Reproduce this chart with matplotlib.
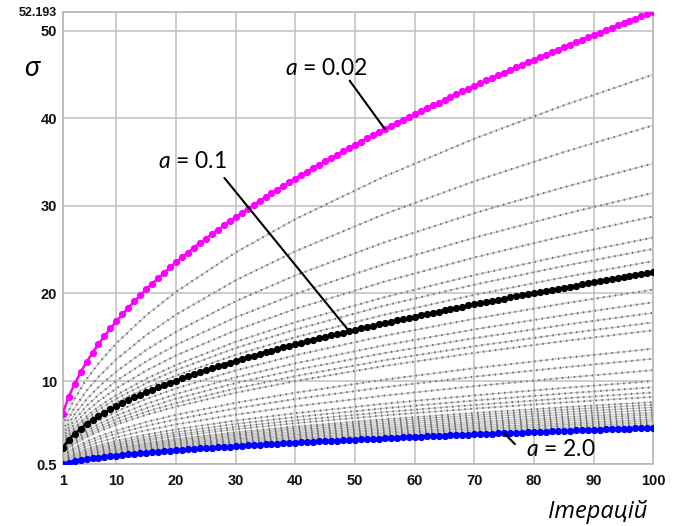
import matplotlib
matplotlib.use('agg')
import matplotlib.pyplot as plt
import numpy as np

plt.rcParams['mathtext.fontset'] = 'custom'
plt.rcParams['mathtext.it'] = 'Lato:italic'
plt.rcParams['mathtext.rm'] = 'Lato'
plt.rcParams['lines.scale_dashes'] = False

iters = np.arange(1, 101)

# sigma per iteration, a = 0.02
sigma_a002 = [
    6.29, 8.17, 9.68, 10.99, 12.16, 13.23, 14.22, 15.14, 16.01, 16.84,
    17.62, 18.38, 19.10, 19.80, 20.47, 21.12, 21.75, 22.37, 22.97, 23.55,
    24.12, 24.67, 25.22, 25.75, 26.27, 26.78, 27.28, 27.77, 28.26, 28.73,
    29.20, 29.66, 30.11, 30.56, 31.00, 31.43, 31.86, 32.29, 32.70, 33.11,
    33.52, 33.92, 34.32, 34.71, 35.10, 35.48, 35.86, 36.24, 36.61, 36.98,
    37.35, 37.71, 38.06, 38.42, 38.77, 39.12, 39.46, 39.80, 40.14, 40.48,
    40.81, 41.14, 41.47, 41.80, 42.12, 42.44, 42.76, 43.08, 43.39, 43.70,
    44.01, 44.32, 44.62, 44.92, 45.22, 45.52, 45.82, 46.11, 46.41, 46.70,
    46.99, 47.27, 47.56, 47.84, 48.13, 48.41, 48.69, 48.96, 49.24, 49.51,
    49.79, 50.06, 50.33, 50.60, 50.86, 51.13, 51.39, 51.66, 51.92, 52.193]

# a = 0.1
sigma_a01 = [
    2.41, 3.29, 3.98, 4.57, 5.09, 5.56, 5.99, 6.40, 6.78, 7.14,
    7.48, 7.81, 8.13, 8.43, 8.72, 9.00, 9.28, 9.55, 9.80, 10.06,
    10.30, 10.54, 10.78, 11.01, 11.24, 11.46, 11.67, 11.89, 12.10, 12.30,
    12.50, 12.70, 12.90, 13.09, 13.28, 13.47, 13.65, 13.84, 14.02, 14.20,
    14.37, 14.54, 14.72, 14.89, 15.05, 15.22, 15.38, 15.54, 15.71, 15.86,
    16.02, 16.18, 16.33, 16.48, 16.64, 16.79, 16.94, 17.08, 17.23, 17.37,
    17.52, 17.66, 17.80, 17.94, 18.08, 18.22, 18.36, 18.49, 18.63, 18.76,
    18.90, 19.03, 19.16, 19.29, 19.42, 19.55, 19.68, 19.80, 19.93, 20.05,
    20.18, 20.30, 20.43, 20.55, 20.67, 20.79, 20.91, 21.03, 21.15, 21.27,
    21.39, 21.50, 21.62, 21.74, 21.85, 21.97, 22.08, 22.19, 22.31, 22.42]

# a = 2.0
sigma_a2 = [
    0.50, 0.69, 0.84, 0.96, 1.07, 1.17, 1.26, 1.35, 1.43, 1.50,
    1.57, 1.64, 1.71, 1.77, 1.83, 1.89, 1.95, 2.00, 2.06, 2.11,
    2.16, 2.21, 2.26, 2.31, 2.35, 2.40, 2.44, 2.49, 2.53, 2.57,
    2.62, 2.66, 2.70, 2.74, 2.78, 2.82, 2.86, 2.89, 2.93, 2.97,
    3.00, 3.04, 3.07, 3.11, 3.14, 3.18, 3.21, 3.25, 3.28, 3.31,
    3.35, 3.38, 3.41, 3.44, 3.47, 3.50, 3.53, 3.57, 3.60, 3.63,
    3.66, 3.69, 3.71, 3.74, 3.77, 3.80, 3.83, 3.86, 3.89, 3.91,
    3.94, 3.97, 3.99, 4.02, 4.05, 4.08, 4.10, 4.13, 4.15, 4.18,
    4.21, 4.23, 4.26, 4.28, 4.31, 4.33, 4.36, 4.38, 4.41, 4.43,
    4.46, 4.48, 4.50, 4.53, 4.55, 4.58, 4.60, 4.62, 4.65, 4.67]

# the other values of a, sampled at fewer iterations
gray_iters = [1, 2, 3, 5, 7, 10, 15, 20, 30, 40, 55, 70, 85, 100]
gray_sigma = [
    [4.84, 6.61, 7.99, 10.22, 12.03, 14.33, 17.51, 20.19, 24.69, 28.49, 33.39, 37.67, 41.49, 45.0],
    [4.22, 5.76, 6.96, 8.90, 10.48, 12.49, 15.25, 17.59, 21.51, 24.82, 29.09, 32.81, 36.15, 39.2],
    [3.75, 5.12, 6.19, 7.91, 9.32, 11.10, 13.56, 15.63, 19.12, 22.07, 25.86, 29.17, 32.13, 34.85],
    [3.39, 4.63, 5.59, 7.15, 8.42, 10.03, 12.25, 14.13, 17.28, 19.95, 23.38, 26.37, 29.05, 31.5],
    [3.10, 4.23, 5.11, 6.54, 7.70, 9.17, 11.20, 12.92, 15.80, 18.24, 21.37, 24.11, 26.56, 28.8],
    [2.84, 3.88, 4.69, 5.99, 7.06, 8.41, 10.27, 11.84, 14.49, 16.72, 19.59, 22.10, 24.34, 26.4],
    [2.70, 3.69, 4.46, 5.70, 6.71, 7.99, 9.76, 11.26, 13.77, 15.89, 18.63, 21.01, 23.14, 25.1],
    [2.55, 3.48, 4.21, 5.38, 6.34, 7.55, 9.22, 10.63, 13.00, 15.01, 17.59, 19.84, 21.85, 23.7],
    [2.20, 3.00, 3.63, 4.64, 5.47, 6.51, 7.96, 9.17, 11.22, 12.95, 15.18, 17.12, 18.86, 20.45],
    [2.04, 2.79, 3.37, 4.31, 5.08, 6.05, 7.39, 8.52, 10.43, 12.03, 14.10, 15.90, 17.52, 19.0],
    [1.92, 2.61, 3.16, 4.04, 4.76, 5.67, 6.92, 7.99, 9.77, 11.27, 13.21, 14.90, 16.41, 17.8],
    [1.80, 2.45, 2.97, 3.79, 4.47, 5.32, 6.50, 7.49, 9.16, 10.57, 12.39, 13.98, 15.40, 16.7],
    [1.70, 2.32, 2.81, 3.59, 4.22, 5.03, 6.15, 7.09, 8.67, 10.00, 11.73, 13.22, 14.57, 15.8],
    [1.47, 2.01, 2.43, 3.11, 3.66, 4.36, 5.33, 6.15, 7.52, 8.67, 10.17, 11.47, 12.63, 13.7],
    [1.35, 1.84, 2.23, 2.85, 3.36, 4.00, 4.88, 5.63, 6.89, 7.95, 9.31, 10.50, 11.57, 12.55],
    [1.21, 1.65, 2.00, 2.55, 3.01, 3.58, 4.38, 5.05, 6.17, 7.12, 8.35, 9.42, 10.37, 11.25],
    [1.08, 1.47, 1.78, 2.27, 2.67, 3.19, 3.89, 4.49, 5.49, 6.33, 7.42, 8.37, 9.22, 10.0],
    [1.00, 1.37, 1.65, 2.11, 2.49, 2.96, 3.62, 4.17, 5.10, 5.89, 6.90, 7.78, 8.58, 9.3],
    [0.94, 1.28, 1.55, 1.97, 2.33, 2.77, 3.38, 3.90, 4.77, 5.51, 6.46, 7.28, 8.02, 8.7],
    [0.88, 1.20, 1.46, 1.86, 2.19, 2.61, 3.19, 3.68, 4.50, 5.19, 6.09, 6.86, 7.56, 8.2],
    [0.82, 1.12, 1.35, 1.73, 2.03, 2.42, 2.96, 3.41, 4.17, 4.81, 5.64, 6.36, 7.01, 7.6],
    [0.79, 1.07, 1.30, 1.66, 1.95, 2.33, 2.84, 3.27, 4.01, 4.62, 5.42, 6.11, 6.73, 7.3],
    [0.75, 1.03, 1.24, 1.59, 1.87, 2.23, 2.72, 3.14, 3.84, 4.43, 5.19, 5.86, 6.45, 7.0],
    [0.72, 0.98, 1.19, 1.52, 1.79, 2.13, 2.61, 3.01, 3.68, 4.24, 4.97, 5.61, 6.18, 6.7],
    [0.69, 0.94, 1.14, 1.45, 1.71, 2.04, 2.49, 2.87, 3.51, 4.05, 4.75, 5.36, 5.90, 6.4],
    [0.66, 0.90, 1.09, 1.40, 1.64, 1.96, 2.39, 2.76, 3.37, 3.89, 4.56, 5.15, 5.67, 6.15],
    [0.63, 0.87, 1.05, 1.34, 1.58, 1.88, 2.30, 2.65, 3.24, 3.74, 4.38, 4.94, 5.44, 5.9],
    [0.61, 0.83, 1.00, 1.28, 1.51, 1.80, 2.20, 2.53, 3.10, 3.58, 4.19, 4.73, 5.21, 5.65],
    [0.59, 0.80, 0.97, 1.24, 1.46, 1.74, 2.12, 2.44, 2.99, 3.45, 4.04, 4.56, 5.03, 5.45],
    [0.56, 0.77, 0.93, 1.19, 1.40, 1.67, 2.04, 2.36, 2.88, 3.32, 3.90, 4.39, 4.84, 5.25],
    [0.54, 0.74, 0.90, 1.15, 1.35, 1.61, 1.96, 2.27, 2.77, 3.20, 3.75, 4.23, 4.66, 5.05],
    [0.52, 0.72, 0.86, 1.11, 1.30, 1.55, 1.89, 2.18, 2.67, 3.08, 3.61, 4.08, 4.49, 4.87],
]

x_ticks = [1, 10, 20, 30, 40, 50, 60, 70, 80, 90, 100]
y_ticks = [0.5, 10, 20, 30, 40, 50, 52.193]
y_tick_labels = ['0.5', '10', '20', '30', '40', '50', '52.193']

fig = plt.figure(figsize=(6.79, 5.26), dpi=100)
ax = fig.add_axes([0.0923, 0.1173, 0.8699, 0.8608])

for row in gray_sigma:
    ax.plot(gray_iters, row, color='#c4c4c4', lw=0.9, zorder=2)
    ax.plot(gray_iters, row, color='#707070', lw=1.6, ls=(0, (1.0, 3.3)), zorder=2)

ax.plot(iters, sigma_a01, color='black', lw=1.8, marker='o', ms=4.2, zorder=4)
ax.plot(iters, sigma_a2, color='#0000ff', lw=1.8, marker='o', ms=4.2, zorder=4)
ax.plot(iters, sigma_a002, color='#ff00ff', lw=1.8, marker='o', ms=4.2, zorder=4)

ax.set_xlim(1, 100)
ax.set_ylim(0.5, 52.193)
ax.set_xticks(x_ticks)
ax.set_yticks(y_ticks)
ax.set_yticklabels(y_tick_labels)
ax.grid(True, color='#c0c0c0', lw=1.1, zorder=0)
ax.set_axisbelow(True)
for s in ax.spines.values():
    s.set_color('#b4b4b4')
    s.set_linewidth(1.1)
ax.tick_params(axis='both', length=0, labelcolor='#111111')
ax.tick_params(axis='x', pad=7)
ax.tick_params(axis='y', pad=4)
for lab in ax.get_xticklabels() + ax.get_yticklabels():
    lab.set_fontfamily('Liberation Sans')
    lab.set_fontweight('bold')
    lab.set_fontsize(10.5)
ax.get_yticklabels()[-1].set_fontsize(9)

# leader lines from the labels to the curves
line_kw = dict(arrowstyle='-', color='black', lw=1.5, shrinkA=0, shrinkB=0)
ax.annotate('', xy=(55, sigma_a002[54]), xytext=(49.1, 44.3), arrowprops=line_kw, zorder=6)
ax.annotate('', xy=(49, sigma_a01[48]), xytext=(28.1, 33.2), arrowprops=line_kw, zorder=6)
ax.annotate('', xy=(75, sigma_a2[74]), xytext=(76.8, 2.8), arrowprops=line_kw, zorder=6)

lab_kw = dict(ha='center', va='center', fontsize=16.5, family='Lato', zorder=6)
ax.text(45.2, 45.7, '$a$ = 0.02', **lab_kw)
ax.text(22.7, 35.1, '$a$ = 0.1', **lab_kw)
ax.text(84.5, 2.15, '$a$ = 2.0', **lab_kw)

fig.text(0.0471, 0.8698, 'σ', ha='center', va='center', fontsize=20,
         style='italic', family=['Lato', 'Noto Sans', 'DejaVu Sans'])
fig.text(0.8807, 0.0266, 'Ітерацій', ha='center', va='center', fontsize=17,
         style='italic', family=['Open Sans', 'Noto Sans', 'DejaVu Sans'])

fig.savefig('out.png', dpi=100)
